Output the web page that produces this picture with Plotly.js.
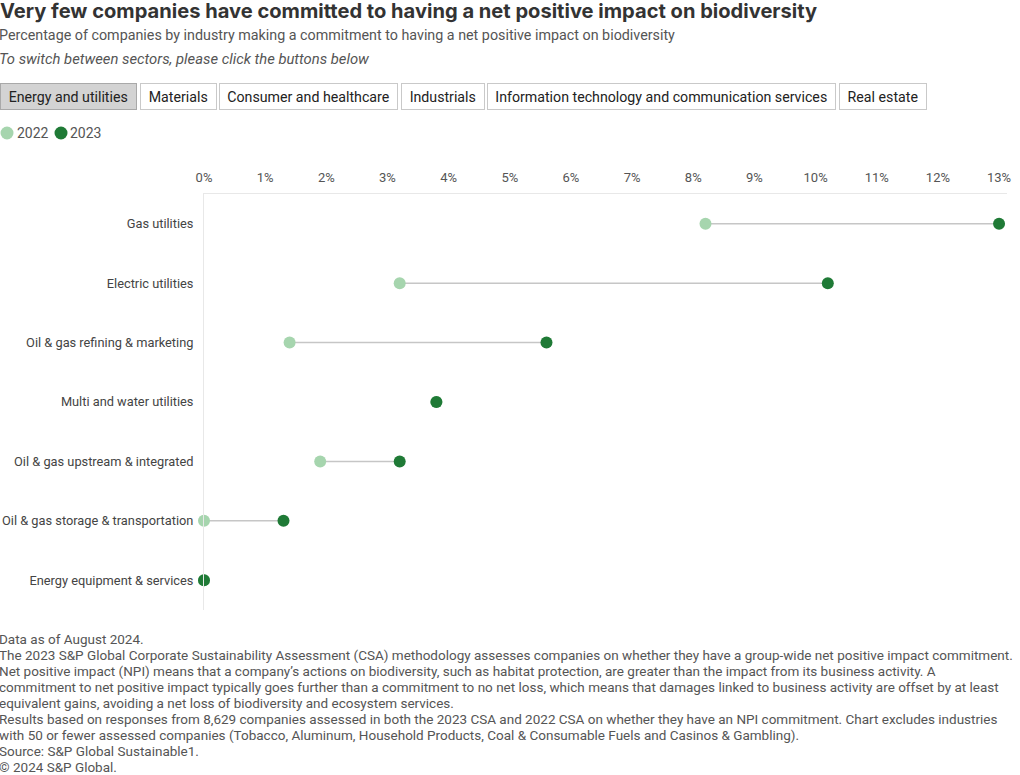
<!DOCTYPE html>
<html><head><meta charset="utf-8">
<script src="https://cdn.plot.ly/plotly-3.0.1.min.js"></script>
<style>html,body{margin:0;padding:0;background:#fff}#chart{width:1020px;height:775px}</style>
</head><body><div id="chart"></div>
<script>
// ---- data ----
const industries = [
  'Gas utilities',
  'Electric utilities',
  'Oil & gas refining & marketing',
  'Multi and water utilities',
  'Oil & gas upstream & integrated',
  'Oil & gas storage & transportation',
  'Energy equipment & services'
];
const values2022 = [8.2, 3.2, 1.4, 3.8, 1.9, 0.0, 0.0];
const values2023 = [13.0, 10.2, 5.6, 3.8, 3.2, 1.3, 0.0];
const seriesNames = ['2022', '2023'];
const xTickVals = [0,1,2,3,4,5,6,7,8,9,10,11,12,13];
const xTickText = ['0%','1%','2%','3%','4%','5%','6%','7%','8%','9%','10%','11%','12%','13%'];
const sectorButtons = [
  'Energy and utilities',
  'Materials',
  'Consumer and healthcare',
  'Industrials',
  'Information technology and communication services',
  'Real estate'
];
const titleText = 'Very few companies have committed to having a net positive impact on biodiversity';
const subtitleText = 'Percentage of companies by industry making a commitment to having a net positive impact on biodiversity';
const instructionText = 'To switch between sectors, please click the buttons below';
const footnotes = [
  'Data as of August 2024.',
  'The 2023 S&P Global Corporate Sustainability Assessment (CSA) methodology assesses companies on whether they have a group-wide net positive impact commitment.',
  'Net positive impact (NPI) means that a company\u2019s actions on biodiversity, such as habitat protection, are greater than the impact from its business activity. A',
  'commitment to net positive impact typically goes further than a commitment to no net loss, which means that damages linked to business activity are offset by at least',
  'equivalent gains, avoiding a net loss of biodiversity and ecosystem services.',
  'Results based on responses from 8,629 companies assessed in both the 2023 CSA and 2022 CSA on whether they have an NPI commitment. Chart excludes industries',
  'with 50 or fewer assessed companies (Tobacco, Aluminum, Household Products, Coal & Consumable Fuels and Casinos & Gambling).',
  'Source: S&P Global Sustainable1.',
  '\u00a9 2024 S&P Global.'
];

// ---- styles ----
const FONT = 'Roboto, "Liberation Sans", sans-serif';
const TFONT = 'Inter, Roboto, sans-serif';
const C2022 = '#a6d5ae';
const C2023 = '#1f7a36';
const W = 1020, H = 775;
const M = {l: 204, r: 13, t: 194, b: 165};
const PW = W - M.l - M.r, PH = H - M.t - M.b;
const px = x => (x - M.l) / PW;
const py = y => (H - M.b - y) / PH;

// connectors
const cx = [], cy = [];
industries.forEach((n, i) => {
  cx.push(values2022[i], values2023[i], null);
  cy.push(n, n, null);
});

const traces = [
  {type: 'scatter', mode: 'lines', x: cx, y: cy, line: {color: '#c6c6c6', width: 1.5},
   hoverinfo: 'skip', showlegend: false, cliponaxis: false},
  {type: 'scatter', mode: 'markers', name: seriesNames[0], x: values2022, y: industries,
   marker: {color: C2022, size: 12}, showlegend: false, cliponaxis: false,
   hovertemplate: '%{y}<br>' + seriesNames[0] + ': %{x}%<extra></extra>'},
  {type: 'scatter', mode: 'markers', name: seriesNames[1], x: values2023, y: industries,
   marker: {color: C2023, size: 12}, showlegend: false, cliponaxis: false,
   hovertemplate: '%{y}<br>' + seriesNames[1] + ': %{x}%<extra></extra>'}
];

const annotations = [];
const shapes = [];

// subtitle + instruction
annotations.push({xref: 'paper', yref: 'paper', x: px(-3), y: py(35), xanchor: 'left', yanchor: 'middle',
  text: subtitleText, showarrow: false, font: {family: FONT, size: 14.3, color: '#555'}});
annotations.push({xref: 'paper', yref: 'paper', x: px(-3), y: py(59), xanchor: 'left', yanchor: 'middle',
  text: '<i>' + instructionText + '</i>', showarrow: false, font: {family: FONT, size: 14.8, color: '#555'}});

// buttons
const BFS = 14.2;
const cv = document.createElement('canvas').getContext('2d');
cv.font = BFS + 'px Roboto';
let bx = 0;
sectorButtons.forEach((b, i) => {
  const tw = Math.ceil(cv.measureText(b).width) + 14.5;
  const active = i === 0;
  annotations.push({xref: 'paper', yref: 'paper', x: px(bx), y: py(96.5), xanchor: 'left', yanchor: 'middle',
    text: b, showarrow: false, width: tw, height: 25, borderpad: 0, borderwidth: 1, align: 'center',
    bordercolor: active ? '#a9a9a9' : '#c9c9c9', bgcolor: active ? '#d3d3d3' : '#ffffff',
    font: {family: FONT, size: BFS, color: '#222'}});
  bx += tw + 2 + 3;
});

// legend
const legendPos = [[7, 15], [61, 68]];
seriesNames.forEach((s, i) => {
  shapes.push({type: 'circle', xref: 'paper', yref: 'paper', xsizemode: 'pixel', ysizemode: 'pixel',
    xanchor: px(legendPos[i][0]), yanchor: py(133), x0: -6.5, x1: 6.5, y0: -6.5, y1: 6.5,
    fillcolor: i === 0 ? C2022 : C2023, line: {width: 0}});
  annotations.push({xref: 'paper', yref: 'paper', x: px(legendPos[i][1]), y: py(133), xanchor: 'left', yanchor: 'middle',
    text: s, showarrow: false, font: {family: FONT, size: 14, color: '#555'}});
});

// footnotes
footnotes.forEach((f, i) => {
  annotations.push({xref: 'paper', yref: 'paper', x: px(-3), y: py(639 + 16 * i), xanchor: 'left', yanchor: 'middle',
    text: f, showarrow: false, font: {family: FONT, size: 13.5, color: '#555'}});
});

const layout = {
  width: W, height: H,
  margin: M,
  paper_bgcolor: '#fff', plot_bgcolor: '#fff',
  font: {family: FONT, color: '#444'},
  title: {text: '<b>' + titleText + '</b>', x: 0, xref: 'container', xanchor: 'left',
          y: 1 - 11 / H, yref: 'container', yanchor: 'middle', pad: {l: 0, t: 0, b: 0, r: 0},
          font: {family: TFONT, size: 20.1, color: '#333'}},
  xaxis: {side: 'top', range: [0, 13.13], tickvals: xTickVals, ticktext: xTickText,
          showgrid: false, zeroline: false, showline: true, linecolor: '#e8e8e8', linewidth: 1,
          ticks: '', ticklabelstandoff: 6, tickfont: {family: FONT, size: 13, color: '#555'}, fixedrange: true},
  yaxis: {type: 'category', categoryorder: 'array', categoryarray: industries, range: [6.5, -0.5],
          showgrid: false, zeroline: false, showline: true, linecolor: '#e8e8e8', linewidth: 1,
          ticks: '', ticklabelstandoff: 7, tickfont: {family: FONT, size: 12.8, color: '#444'}, fixedrange: true},
  annotations: annotations,
  shapes: shapes,
  showlegend: false,
  hovermode: 'closest'
};

Plotly.newPlot('chart', traces, layout, {displayModeBar: false, responsive: false});
</script>
</body></html>
